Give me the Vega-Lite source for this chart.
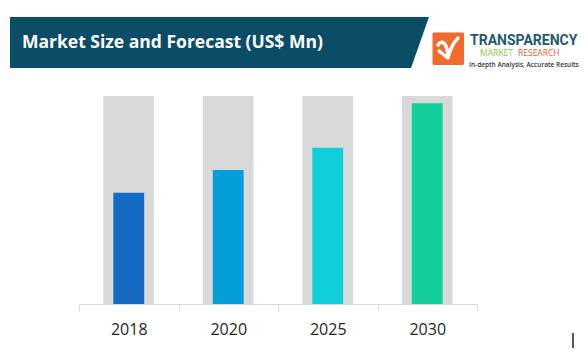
{
  "$schema": "https://vega.github.io/schema/vega-lite/v6.json",
  "autosize": "none",
  "width": 398,
  "height": 208,
  "padding": {"left": 79, "top": 96, "right": 110, "bottom": 57},
  "background": "#ffffff",
  "config": {"view": {"stroke": null}, "axis": {"grid": false}},
  "data": {"values": [
    {"year": "2018", "value": 53.5},
    {"year": "2020", "value": 64.4},
    {"year": "2025", "value": 75.1},
    {"year": "2030", "value": 96.5}
  ]},
  "layer": [
    {
      "mark": {"type": "bar", "color": "#d9d9d9", "width": {"band": 0.51}},
      "encoding": {
        "x": {"field": "year", "type": "nominal", "sort": null,
          "scale": {"paddingInner": 0, "paddingOuter": 0},
          "axis": {"title": null, "labelAngle": 0, "domainColor": "#d9d9d9", "tickColor": "#d9d9d9",
            "tickBand": "extent", "tickSize": 7, "labelPadding": 10, "labelFont": "Open Sans",
            "labelFontSize": 16, "labelColor": "#262626"}},
        "y": {"datum": 100, "type": "quantitative", "scale": {"domain": [0, 100], "nice": false}, "axis": null}
      }
    },
    {
      "mark": {"type": "bar", "width": {"band": 0.31}},
      "encoding": {
        "x": {"field": "year", "type": "nominal", "sort": null},
        "y": {"field": "value", "type": "quantitative"},
        "color": {"field": "year", "type": "nominal", "legend": null,
          "scale": {"domain": ["2018", "2020", "2025", "2030"], "range": ["#156bc4", "#039fdb", "#0ecfd9", "#12cf9a"]}}
      }
    },
    {
      "data": {"values": [{"item": "banner"}]},
      "mark": {"type": "point", "shape": "M-69,-79L350,-79L332,-28L-69,-28Z", "filled": true, "color": "#0b4c66", "opacity": 1, "size": 4, "strokeWidth": 0},
      "encoding": {"x": {"value": 0}, "y": {"value": 0}}
    },
    {
      "data": {"values": [{"item": "title"}]},
      "mark": {"type": "text", "text": "Market Size and Forecast (US$ Mn)", "font": "Open Sans", "fontWeight": "bold", "fontSize": 17.5, "color": "#ffffff", "align": "left", "baseline": "alphabetic"},
      "encoding": {"x": {"value": -57}, "y": {"value": -48}}
    },
    {
      "data": {"values": [{"item": "logo box"}]},
      "mark": {"type": "rect", "color": "#f26a2c", "cornerRadius": 1.5},
      "encoding": {"x": {"value": 353.5}, "x2": {"value": 385}, "y": {"value": -63.5}, "y2": {"value": -31}}
    },
    {
      "data": {"values": [{"item": "logo check"}]},
      "mark": {"type": "point", "shape": "M359,-51 Q363,-57 367,-50 Q369,-45 369,-38 Q372,-51 379,-58 M360,-45 Q365,-41 369,-38", "filled": false, "stroke": "#ffffff", "opacity": 1, "size": 4, "strokeWidth": 3.5, "strokeCap": "round"},
      "encoding": {"x": {"value": 0}, "y": {"value": 0}}
    },
    {
      "data": {"values": [{"item": "logo name"}]},
      "mark": {"type": "text", "text": "TRANSPARENCY", "font": "Roboto", "fontWeight": "bold", "fontSize": 14, "color": "#1d5b70", "align": "left", "baseline": "alphabetic"},
      "encoding": {"x": {"value": 391}, "y": {"value": -51}}
    },
    {
      "data": {"values": [{"item": "logo market"}]},
      "mark": {"type": "text", "text": "MARKET", "font": "Open Sans", "fontSize": 8.5, "color": "#8cc63e", "align": "left", "baseline": "alphabetic"},
      "encoding": {"x": {"value": 401}, "y": {"value": -40}}
    },
    {
      "data": {"values": [{"item": "logo research"}]},
      "mark": {"type": "text", "text": "RESEARCH", "font": "Open Sans", "fontSize": 8.5, "color": "#ec5a2a", "align": "left", "baseline": "alphabetic"},
      "encoding": {"x": {"value": 439}, "y": {"value": -40}}
    },
    {
      "data": {"values": [{"item": "logo tagline"}]},
      "mark": {"type": "text", "text": "In-depth Analysis, Accurate Results", "font": "Open Sans", "fontSize": 6.5, "fontWeight": 600, "color": "#333333", "align": "left", "baseline": "alphabetic"},
      "encoding": {"x": {"value": 390}, "y": {"value": -29.5}}
    },
    {
      "data": {"values": [{"item": "marker"}]},
      "mark": {"type": "rule", "color": "#000000", "strokeWidth": 1.3},
      "encoding": {"x": {"value": 494}, "y": {"value": 237}, "y2": {"value": 252}}
    }
  ]
}
